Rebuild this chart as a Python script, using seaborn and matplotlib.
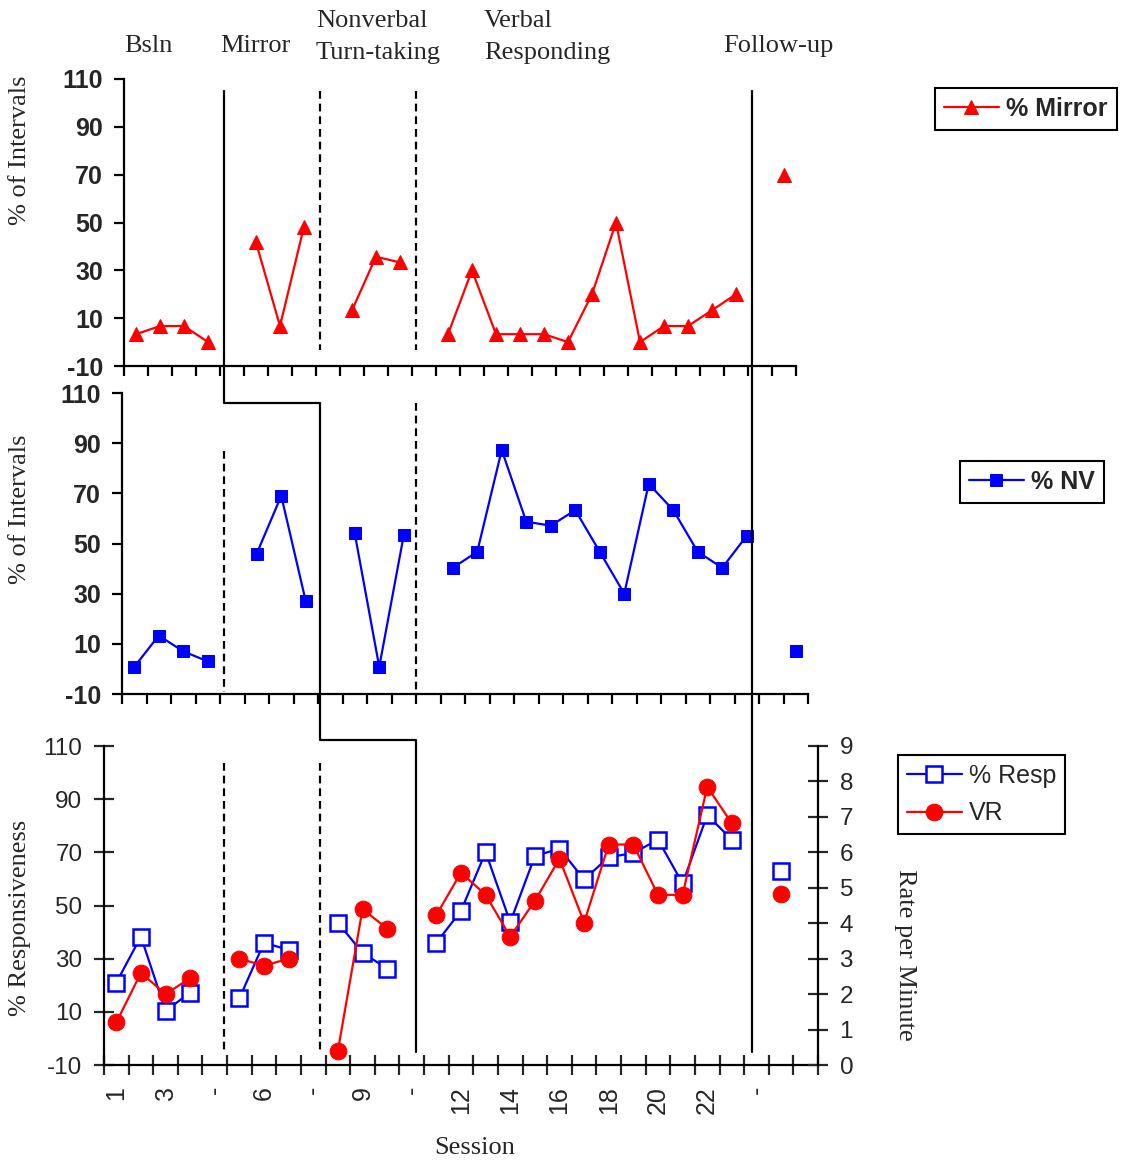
import numpy as np
import pandas as pd
import matplotlib
matplotlib.use("Agg")
import matplotlib.pyplot as plt
import seaborn as sns
from matplotlib.lines import Line2D

# ---------------- data ----------------
phases = ["Bsln", "Mirror", "Nonverbal Turn-taking", "Verbal Responding", "Follow-up"]
phase_len = [4, 3, 3, 13, 1]

mirror_pct = [3.3, 6.7, 6.7, 0.0,
              41.7, 6.7, 48.3,
              13.3, 35.7, 33.3,
              3.3, 30.0, 3.3, 3.3, 3.3, 0.0, 20.0, 50.0, 0.0, 6.7, 6.7, 13.3, 20.0,
              70.0]
nv_pct = [0.8, 13.3, 7.0, 3.0,
          46.0, 69.0, 27.0,
          54.0, 0.8, 53.3,
          40.3, 46.7, 87.3, 58.7, 57.1, 63.3, 46.7, 30.0, 73.8, 63.3, 46.7, 40.3, 53.1,
          7.0]
resp_pct = [21.0, 38.3, 10.4, 17.2,
            15.1, 36.0, 33.3,
            43.5, 32.2, 26.3,
            36.0, 48.0, 70.1, 43.7, 68.6, 71.4, 59.8, 68.2, 69.7, 74.8, 58.3, 84.0, 74.8,
            63.1]
vr_rate = [1.2, 2.6, 2.0, 2.45,
           3.0, 2.8, 3.0,
           0.4, 4.4, 3.85,
           4.23, 5.43, 4.8, 3.62, 4.63, 5.82, 4.02, 6.22, 6.22, 4.8, 4.8, 7.85, 6.82,
           4.82]
slot_labels = ["1", "2", "3", "4", "-", "5", "6", "7", "-", "8", "9", "10", "-",
               "11", "12", "13", "14", "15", "16", "17", "18", "19", "20", "21", "22", "23",
               "-", "24", ""]
y_ticks = [-10, 10, 30, 50, 70, 90, 110]
rate_ticks = [0, 1, 2, 3, 4, 5, 6, 7, 8, 9]

# build table: each session sits in its own category slot, one empty slot between phases
rows = []
offset = 0
for p, n in enumerate(phase_len):
    for i in range(n):
        rows.append({"phase": phases[p], "slot": offset + i})
    offset += n + 1
df = pd.DataFrame(rows)
df["x"] = df["slot"] + 0.5
df["mirror"] = mirror_pct
df["nv"] = nv_pct
df["resp"] = resp_pct
df["vr"] = vr_rate

# ---------------- figure ----------------
sns.set_style("ticks")
plt.rcParams["font.family"] = ["Liberation Sans", "DejaVu Sans"]
W, H = 1122, 1165
fig = plt.figure(figsize=(W / 100, H / 100), dpi=100)


def rect(l, t, r, b):
    return [l / W, 1 - b / H, (r - l) / W, (b - t) / H]


ax1 = fig.add_axes(rect(124, 79, 796, 366))
ax2 = fig.add_axes(rect(122, 393, 808, 694))
ax3 = fig.add_axes(rect(104, 746, 818, 1065))

RED = "#ff0000"
BLUE = "#0000ff"

sns.lineplot(data=df, x="x", y="mirror", units="phase", estimator=None, ax=ax1,
             color=RED, linewidth=1.6, marker="^", markersize=10,
             markeredgecolor=RED, legend=False, sort=True)
sns.lineplot(data=df, x="x", y="nv", units="phase", estimator=None, ax=ax2,
             color=BLUE, linewidth=1.6, marker="s", markersize=9,
             markeredgecolor=BLUE, legend=False, sort=True)
sns.lineplot(data=df, x="x", y="resp", units="phase", estimator=None, ax=ax3,
             color=BLUE, linewidth=1.6, marker="s", markersize=11,
             markerfacecolor="white", markeredgecolor=BLUE, markeredgewidth=1.8,
             legend=False, sort=True)
ax3b = ax3.twinx()
sns.lineplot(data=df, x="x", y="vr", units="phase", estimator=None, ax=ax3b,
             color=RED, linewidth=1.6, marker="o", markersize=12,
             markeredgecolor=RED, legend=False, sort=True)

LW = 1.6
for ax, nslots in [(ax1, 28), (ax2, 28)]:
    ax.set_xlim(0, nslots)
    ax.set_ylim(-10, 110)
    ax.set_xticks(range(nslots + 1))
    ax.set_xticklabels([])
    ax.set_yticks(y_ticks)
    ax.set_yticklabels([str(v) for v in y_ticks], fontsize=18, fontweight="bold")
    ax.tick_params(axis="both", direction="out", length=7, width=LW, pad=8, color="black")
    ax.set_xlabel("")
    ax.set_ylabel("")
    for s in ["top", "right"]:
        ax.spines[s].set_visible(False)
    for s in ["left", "bottom"]:
        ax.spines[s].set_linewidth(LW)
        ax.spines[s].set_color("black")
    ax.patch.set_alpha(0)

# bottom panel
ax3.set_xlim(0, 29)
ax3.set_ylim(-10, 110)
ax3.set_yticks(y_ticks)
ax3.set_yticklabels([str(v) for v in y_ticks], fontsize=17.5)
ax3.set_xticks(range(30))
ax3.set_xticklabels([])
centers = [i + 0.5 for i in range(0, 29, 2)]
ax3.set_xticks(centers, minor=True)
ax3.set_xticklabels([slot_labels[i] for i in range(0, 29, 2)], minor=True,
                    rotation=90, fontsize=18, va="top", ha="center")
ax3.tick_params(axis="x", which="major", direction="inout", length=15, width=LW)
ax3.tick_params(axis="x", which="minor", length=0, pad=15)
ax3.tick_params(axis="y", direction="inout", length=15, width=LW, pad=8)
ax3.set_xlabel("")
ax3.set_ylabel("")
for s in ["top", "right"]:
    ax3.spines[s].set_visible(False)
for s in ["left", "bottom"]:
    ax3.spines[s].set_linewidth(LW)
    ax3.spines[s].set_color("black")
ax3.patch.set_alpha(0)

ax3b.set_ylim(0, 9)
ax3b.set_yticks(rate_ticks)
ax3b.set_yticklabels([str(v) for v in rate_ticks], fontsize=17.5)
ax3b.tick_params(axis="y", direction="inout", length=15, width=LW, pad=8)
ax3b.set_ylabel("")
ax3b.set_xlabel("")
for s in ["top", "left", "bottom"]:
    ax3b.spines[s].set_visible(False)
ax3b.spines["right"].set_visible(True)
ax3b.spines["right"].set_linewidth(LW)
ax3b.spines["right"].set_color("black")
ax3b.patch.set_alpha(0)


# ---------------- phase change lines (figure coordinates) ----------------
def fline(xs, ys, dashed=False):
    ln = Line2D([x / W for x in xs], [1 - y / H for y in ys], transform=fig.transFigure,
                color="black", linewidth=1.6,
                linestyle=(0, (3.5, 2.2)) if dashed else "-", zorder=5)
    fig.add_artist(ln)


fline([224, 224, 320, 320, 416, 416], [91, 403, 403, 740, 740, 1052])
fline([752, 752], [91, 1052])
fline([320, 320], [91, 350], dashed=True)
fline([416, 416], [91, 350], dashed=True)
fline([224, 224], [451, 692], dashed=True)
fline([416, 416], [403, 692], dashed=True)
fline([224, 224], [763, 1050], dashed=True)
fline([320, 320], [763, 1050], dashed=True)

# ---------------- texts ----------------
SERIF = ["Liberation Serif", "DejaVu Serif"]


def ftext(x, y, s, **kw):
    kw.setdefault("family", SERIF)
    kw.setdefault("fontsize", 19)
    fig.text(x / W, 1 - y / H, s, **kw)


ftext(124, 46, "Bsln", ha="left", va="center")
ftext(220, 46, "Mirror", ha="left", va="center")
ftext(316, 21, "Nonverbal", ha="left", va="center")
ftext(316, 53, "Turn-taking", ha="left", va="center")
ftext(484, 21, "Verbal", ha="left", va="center")
ftext(484, 53, "Responding", ha="left", va="center")
ftext(723, 46, "Follow-up", ha="left", va="center")

ftext(20, 150, "% of Intervals", ha="center", va="center", rotation=90)
ftext(20, 509, "% of Intervals", ha="center", va="center", rotation=90)
ftext(20, 918, "% Responsiveness", ha="center", va="center", rotation=90)
ftext(905, 955, "Rate per Minute", ha="center", va="center", rotation=270)
ftext(475, 1148, "Session", ha="center", va="center")

# ---------------- legends ----------------
legkw = dict(loc="upper left", bbox_transform=fig.transFigure, frameon=True,
             fancybox=False, edgecolor="black", framealpha=1, borderaxespad=0,
             handlelength=2.2, handletextpad=0.3, borderpad=0.35)
l1 = ax1.legend(handles=[ax1.lines[0]], labels=["% Mirror"],
                bbox_to_anchor=(935 / W, 1 - 88 / H),
                prop={"weight": "bold", "size": 18}, **legkw)
l1.get_frame().set_linewidth(1.5)
l2 = ax2.legend(handles=[ax2.lines[0]], labels=["% NV"],
                bbox_to_anchor=(960 / W, 1 - 461 / H),
                prop={"weight": "bold", "size": 18}, **legkw)
l2.get_frame().set_linewidth(1.5)
l3 = ax3b.legend(handles=[ax3.lines[0], ax3b.lines[0]], labels=["% Resp", "VR"],
                 bbox_to_anchor=(898 / W, 1 - 755 / H),
                 prop={"size": 18}, labelspacing=0.55, **legkw)
l3.get_frame().set_linewidth(1.5)

fig.savefig("out.png", dpi=100)
